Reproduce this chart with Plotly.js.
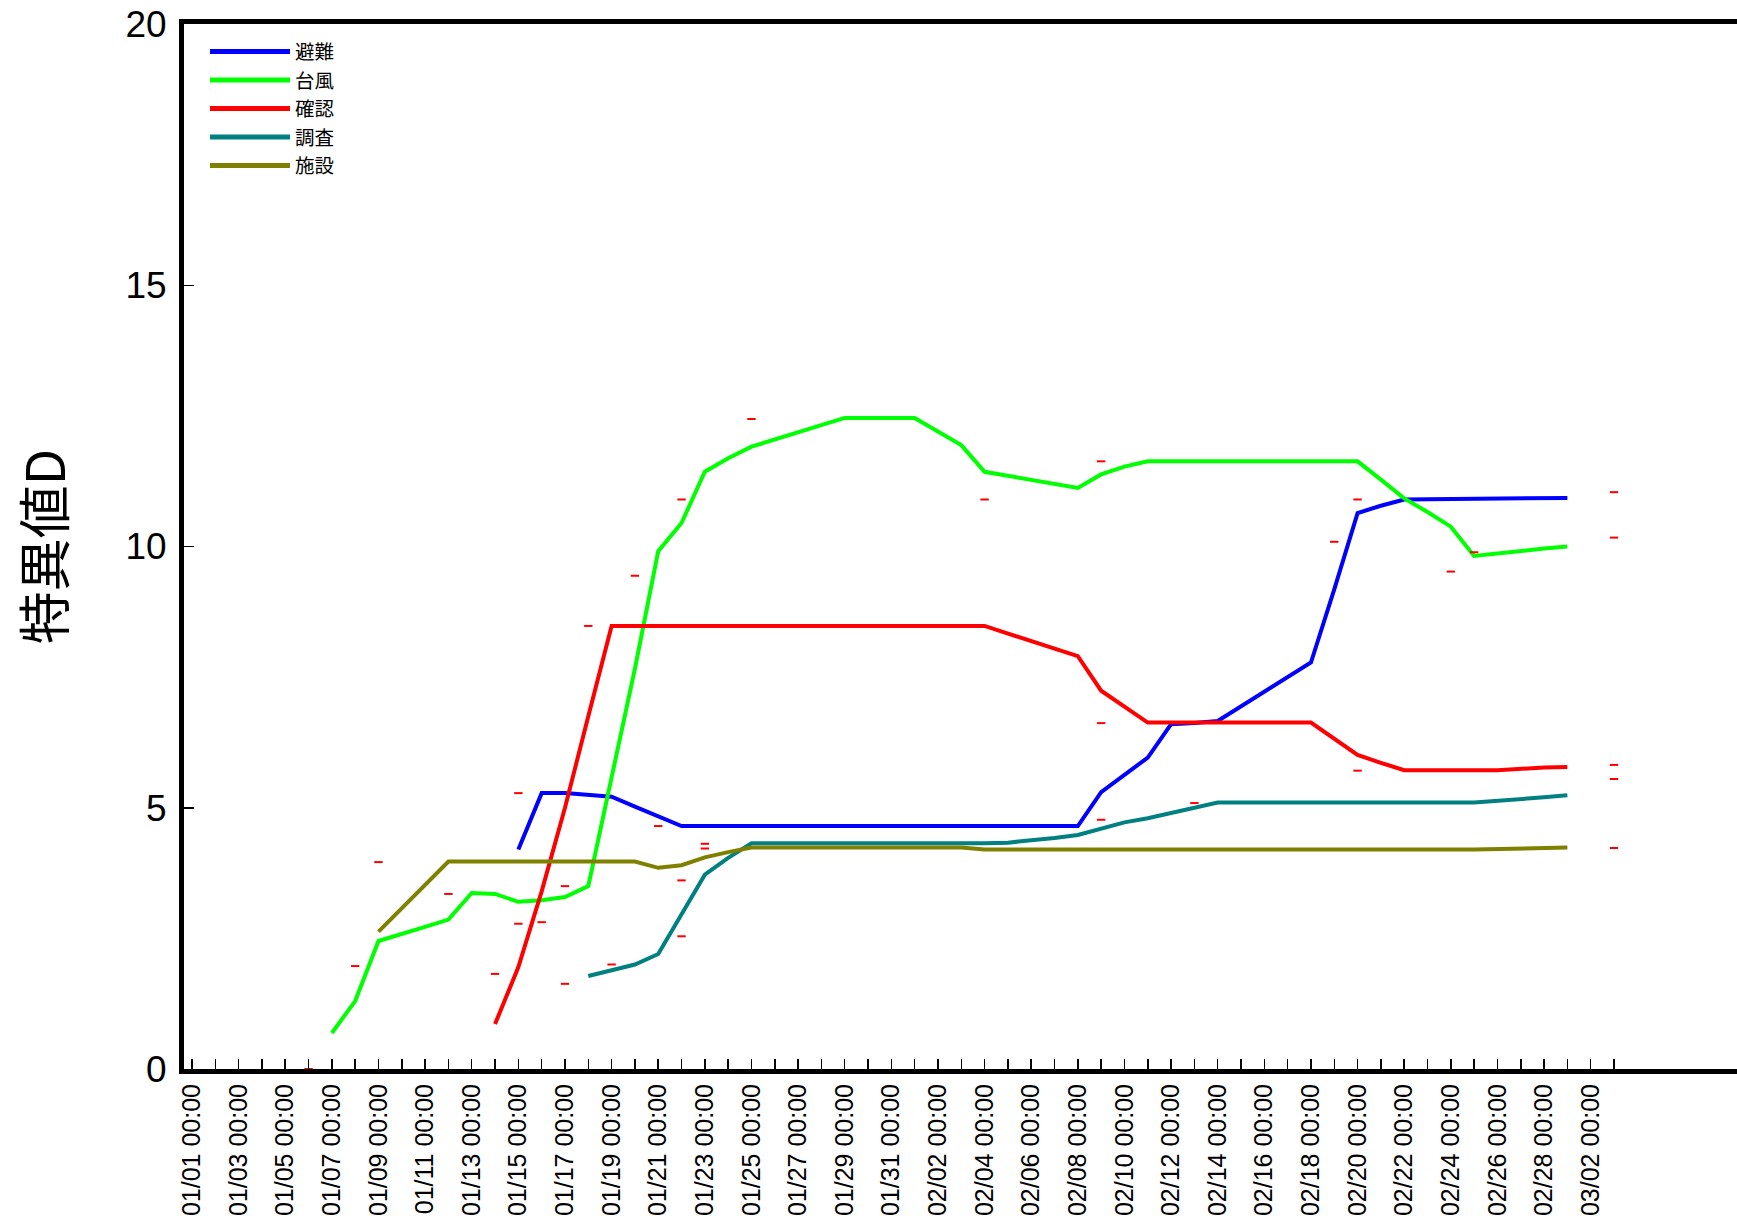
<!DOCTYPE html>
<html>
<head>
<meta charset="utf-8">
<script src="https://cdn.plot.ly/plotly-3.0.1.min.js"></script>
<style>
html, body { margin: 0; padding: 0; overflow: hidden; background: #ffffff; }
#chart { width: 1800px; height: 1219px; }
</style>
</head>
<body>
<div id="chart"></div>
<script>
// ---- Data ----
const SERIES_NAMES = ['避難', '台風', '確認', '調査', '施設'];
const SERIES_COLORS = ['#0000ff', '#00ff00', '#ff0000', '#008080', '#808000'];

const hinanDates = ['2015-01-15','2015-01-16','2015-01-17','2015-01-18','2015-01-19','2015-01-20','2015-01-21','2015-01-22',
  '2015-02-08','2015-02-09','2015-02-10','2015-02-11','2015-02-12','2015-02-13','2015-02-14','2015-02-15','2015-02-16',
  '2015-02-17','2015-02-18','2015-02-19','2015-02-20','2015-02-21','2015-02-22','2015-03-01'];
const hinanValues = [4.2, 5.28, 5.28, 5.25, 5.21, 5.02, 4.83, 4.65,
  4.65, 5.3, 5.63, 5.96, 6.6, 6.62, 6.66, 6.94, 7.22,
  7.5, 7.78, 9.18, 10.64, 10.78, 10.9, 10.93];

const taifuDates = ['2015-01-07','2015-01-08','2015-01-09','2015-01-10','2015-01-11','2015-01-12','2015-01-13','2015-01-14',
  '2015-01-15','2015-01-16','2015-01-17','2015-01-18','2015-01-19','2015-01-20','2015-01-21','2015-01-22','2015-01-23',
  '2015-01-24','2015-01-25','2015-01-26','2015-01-27','2015-01-28','2015-01-29','2015-02-01','2015-02-02','2015-02-03',
  '2015-02-04','2015-02-05','2015-02-06','2015-02-07','2015-02-08','2015-02-09','2015-02-10','2015-02-11','2015-02-20',
  '2015-02-21','2015-02-22','2015-02-23','2015-02-24','2015-02-25','2015-02-26','2015-02-27','2015-02-28','2015-03-01'];
const taifuValues = [0.69, 1.3, 2.45, 2.58, 2.72, 2.86, 3.37, 3.35,
  3.2, 3.23, 3.29, 3.5, 5.6, 7.66, 9.91, 10.45, 11.43,
  11.69, 11.91, 12.05, 12.2, 12.32, 12.46, 12.46, 12.2, 11.94,
  11.43, 11.35, 11.27, 11.2, 11.12, 11.38, 11.53, 11.63, 11.63,
  11.28, 10.92, 10.66, 10.38, 9.82, 9.87, 9.91, 9.96, 10.0];

const kakuninDates = ['2015-01-14','2015-01-15','2015-01-16','2015-01-17','2015-01-18','2015-01-19','2015-02-04','2015-02-05',
  '2015-02-06','2015-02-07','2015-02-08','2015-02-09','2015-02-10','2015-02-11','2015-02-18','2015-02-19','2015-02-20',
  '2015-02-21','2015-02-22','2015-02-26','2015-02-27','2015-02-28','2015-03-01'];
const kakuninValues = [0.86, 1.95, 3.4, 5.0, 6.75, 8.48, 8.48, 8.34,
  8.2, 8.05, 7.9, 7.24, 6.93, 6.63, 6.63, 6.32, 6.01,
  5.86, 5.72, 5.72, 5.75, 5.77, 5.78];

const chosaDates = ['2015-01-18','2015-01-19','2015-01-20','2015-01-21','2015-01-22','2015-01-23','2015-01-24','2015-01-25',
  '2015-02-04','2015-02-05','2015-02-06','2015-02-07','2015-02-08','2015-02-09','2015-02-10','2015-02-11','2015-02-12',
  '2015-02-13','2015-02-14','2015-02-25','2015-02-26','2015-02-27','2015-02-28','2015-03-01'];
const chosaValues = [1.78, 1.89, 2.0, 2.2, 2.96, 3.72, 4.04, 4.32,
  4.32, 4.33, 4.38, 4.42, 4.48, 4.61, 4.72, 4.8, 4.9,
  5.0, 5.1, 5.1, 5.13, 5.17, 5.2, 5.24];

const shisetsuDates = ['2015-01-09','2015-01-10','2015-01-11','2015-01-12','2015-01-20','2015-01-21','2015-01-22','2015-01-23',
  '2015-01-24','2015-01-25','2015-02-03','2015-02-04','2015-02-25','2015-02-26','2015-02-27','2015-02-28','2015-03-01'];
const shisetsuValues = [2.63, 3.08, 3.52, 3.97, 3.97, 3.85, 3.9, 4.05,
  4.15, 4.24, 4.24, 4.2, 4.2, 4.21, 4.22, 4.23, 4.24];

// small red dash marks scattered over the chart
const dashDates = ['2015-01-06','2015-01-08','2015-01-08','2015-01-09','2015-01-12','2015-01-13','2015-01-14','2015-01-15',
  '2015-01-15','2015-01-16','2015-01-17','2015-01-17','2015-01-18','2015-01-19','2015-01-20','2015-01-21','2015-01-22',
  '2015-01-22','2015-01-22','2015-01-23','2015-01-23','2015-01-25','2015-02-04','2015-02-09','2015-02-09','2015-02-09',
  '2015-02-13','2015-02-19','2015-02-20','2015-02-20','2015-02-24','2015-02-25','2015-03-03','2015-03-03','2015-03-03',
  '2015-03-03','2015-03-03'];
const dashValues = [0.0, 1.97, -0.04, 3.96, 3.35, -0.12, 1.82, 5.28,
  2.78, 2.81, 3.5, 1.63, 8.48, 2.0, 9.44, 4.65, 10.9,
  3.61, 2.54, 4.31, 4.22, 12.44, 10.9, 11.63, 6.62, 4.77,
  5.09, 10.09, 10.9, 5.71, 9.52, 9.89, 11.04, 10.17, 5.82,
  5.55, 4.23];

const TICK_LABELS = ['01/01 00:00','01/03 00:00','01/05 00:00','01/07 00:00','01/09 00:00','01/11 00:00','01/13 00:00',
  '01/15 00:00','01/17 00:00','01/19 00:00','01/21 00:00','01/23 00:00','01/25 00:00','01/27 00:00','01/29 00:00',
  '01/31 00:00','02/02 00:00','02/04 00:00','02/06 00:00','02/08 00:00','02/10 00:00','02/12 00:00','02/14 00:00',
  '02/16 00:00','02/18 00:00','02/20 00:00','02/22 00:00','02/24 00:00','02/26 00:00','02/28 00:00','03/02 00:00'];
const Y_TITLE = '特異値D';

// ---- axis tick positions: one tick per day, label every second day ----
const tickVals = [];
const tickText = [];
const start = Date.UTC(2015, 0, 1);
for (let i = 0; i < 62; i++) {
  const d = new Date(start + i * 86400000);
  tickVals.push(d.toISOString().slice(0, 10));
  tickText.push(i % 2 === 0 ? TICK_LABELS[i / 2] : '');
}

const seriesX = [hinanDates, taifuDates, kakuninDates, chosaDates, shisetsuDates];
const seriesY = [hinanValues, taifuValues, kakuninValues, chosaValues, shisetsuValues];

const traces = SERIES_NAMES.map((name, i) => ({
  type: 'scatter',
  mode: 'lines',
  name: name,
  x: seriesX[i],
  y: seriesY[i],
  line: { color: SERIES_COLORS[i], width: 4 },
  hoverinfo: 'x+y+name'
}));

traces.push({
  type: 'scatter',
  mode: 'markers',
  name: 'marks',
  showlegend: false,
  x: dashDates,
  y: dashValues,
  cliponaxis: false,
  marker: { symbol: 'line-ew', size: 6, line: { color: '#ff0000', width: 2 }, color: '#ff0000' }
});

const layout = {
  width: 1800,
  height: 1219,
  margin: { l: 184, r: 0, t: 24, b: 150 },
  paper_bgcolor: '#ffffff',
  plot_bgcolor: '#ffffff',
  showlegend: true,
  legend: {
    x: 0.013, y: 0.994, xanchor: 'left', yanchor: 'top',
    bgcolor: 'rgba(0,0,0,0)', borderwidth: 0,
    font: { family: 'Noto Sans CJK JP', size: 19.5, color: '#000000' },
    itemwidth: 80, tracegroupgap: 0
  },
  xaxis: {
    type: 'date',
    range: ['2014-12-31 15:46', '2015-03-10 23:30'],
    tickmode: 'array',
    tickvals: tickVals,
    ticktext: tickText,
    ticks: 'inside', ticklen: 10, tickwidth: 1.5, tickcolor: '#000000',
    tickangle: -90,
    tickfont: { family: 'Liberation Sans, Arial, sans-serif', size: 25, color: '#000000' },
    showline: true, linewidth: 5, linecolor: '#000000', mirror: true,
    showgrid: false, zeroline: false, automargin: false
  },
  yaxis: {
    range: [0, 20],
    tickmode: 'linear', tick0: 0, dtick: 5,
    ticks: 'inside', ticklen: 10, tickwidth: 1.5, tickcolor: '#000000',
    tickfont: { family: 'Liberation Sans, Arial, sans-serif', size: 37, color: '#000000' },
    ticklabelstandoff: 5,
    showline: true, linewidth: 5, linecolor: '#000000', mirror: true,
    showgrid: false, zeroline: false, automargin: false,
    title: { text: Y_TITLE, font: { family: 'Noto Sans CJK JP', size: 53, color: '#000000' }, standoff: 44 }
  }
};

Plotly.newPlot('chart', traces, layout, { staticPlot: true, displayModeBar: false }).then(function (gd) {
  // tighten legend row spacing to match the reference (about 28px per row)
  const items = gd.querySelectorAll('.legend .traces');
  let y0 = null;
  items.forEach(function (g, i) {
    const t = g.getAttribute('transform') || '';
    const m = t.match(/translate\(\s*([-\d.]+)[ ,]+([-\d.]+)\s*\)/);
    const x = m ? parseFloat(m[1]) : 0;
    const y = m ? parseFloat(m[2]) : 0;
    if (y0 === null) y0 = y + 2;
    g.setAttribute('transform', 'translate(' + x + ',' + (y0 + i * 28.5) + ')');
    g.querySelectorAll('.legendlines path').forEach(function (p) { p.style.strokeWidth = '5px'; });
  });
});
</script>
</body>
</html>
